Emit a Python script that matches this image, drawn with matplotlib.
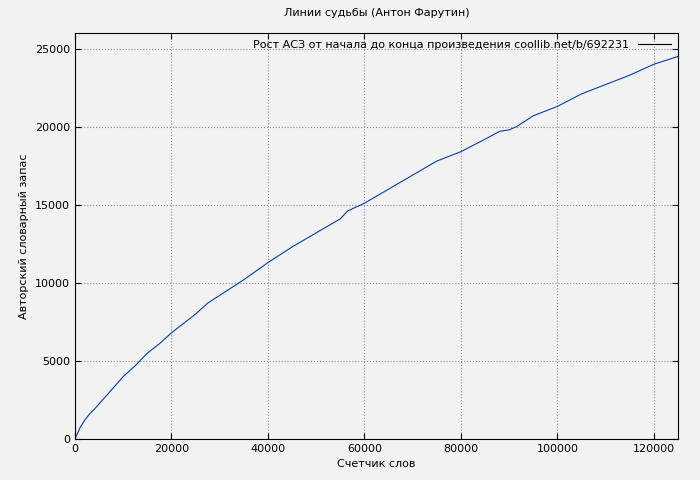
import matplotlib
matplotlib.use("Agg")
import matplotlib.pyplot as plt

words = [0, 1000, 2000, 3000, 4000, 6000, 8000, 10000, 12500, 15000, 17500, 20000, 22500, 25000,
         27500, 30000, 35000, 40000, 45000, 50000, 55000, 56500, 60000, 65000, 70000, 75000,
         80000, 85000, 88000, 90000, 91500, 93000, 95000, 100000, 105000, 110000, 115000,
         120000, 125000]
vocab = [0, 700, 1200, 1600, 1900, 2600, 3300, 4000, 4700, 5500, 6100, 6800, 7400, 8000,
         8700, 9200, 10200, 11300, 12300, 13200, 14100, 14600, 15100, 16000, 16900, 17800,
         18400, 19200, 19700, 19800, 20000, 20300, 20700, 21300, 22100, 22700, 23300,
         24000, 24500]

plt.rcParams['font.family'] = ['DejaVu Sans']
plt.rcParams['font.size'] = 8

fig = plt.figure(figsize=(7, 4.8), dpi=100, facecolor='#f2f2f2')
ax = fig.add_axes([75/700, 1-439/480, 603/700, 406/480], facecolor='#f2f2f2')
ax.plot(words, vocab, color='#0040b0', linewidth=0.8)
ax.set_xlim(0, 125000)
ax.set_ylim(0, 26000)
ax.set_xticks(range(0, 125001, 20000))
ax.set_yticks(range(0, 25001, 5000))
ax.grid(True, color='#909090', linestyle=':', linewidth=0.8)
ax.tick_params(direction='in', length=4, top=True, right=True)
ax.set_xlabel('Счетчик слов')
ax.set_ylabel('Авторский словарный запас')
ax.set_title('Линии судьбы (Антон Фарутин)', fontsize=8, pad=12)
ax.plot([], [], color='black', linewidth=0.8,
        label='Рост АСЗ от начала до конца произведения coollib.net/b/692231')
leg = ax.legend(loc='upper right', frameon=False, markerfirst=False, handlelength=3,
                borderaxespad=0.2)
fig.savefig('out.png', dpi=100, facecolor=fig.get_facecolor())
